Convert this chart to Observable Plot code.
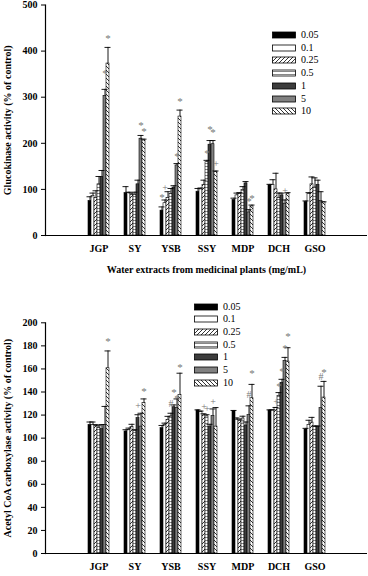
<!DOCTYPE html>
<html><head><meta charset="utf-8">
<script src="https://cdn.jsdelivr.net/npm/d3@7"></script>
<script src="https://cdn.jsdelivr.net/npm/@observablehq/plot@0.6"></script>
<style>
body{margin:0;background:#fff;}
#wrap{position:relative;width:368px;height:576px;overflow:hidden;background:#fff;font-family:"Liberation Serif","Times New Roman",serif;}
#wrap svg.plotsvg{display:block;}
.lg{position:absolute;font-size:10px;font-family:"Liberation Serif","Times New Roman",serif;color:#000;}
.lg .row{position:absolute;white-space:nowrap;height:12px;}
.lg .row svg{position:absolute;left:0;}
.lg .row span{position:absolute;line-height:12px;}
</style></head><body>
<svg width="0" height="0" style="position:absolute">
<defs>
<pattern id="p025" patternUnits="userSpaceOnUse" width="4" height="4">
<rect width="4" height="4" fill="#fff"/>
<path d="M-1,1 L1,-1 M0,4 L4,0 M3,5 L5,3" stroke="#000" stroke-width="0.8"/>
</pattern>
<pattern id="p05" patternUnits="userSpaceOnUse" width="4" height="3">
<rect width="4" height="3" fill="#fff"/>
<path d="M0,1.5 L4,1.5" stroke="#555" stroke-width="0.7"/>
</pattern>
<pattern id="p10" patternUnits="userSpaceOnUse" width="4" height="4">
<rect width="4" height="4" fill="#fff"/>
<path d="M-1,3 L1,5 M0,0 L4,4 M3,-1 L5,1" stroke="#000" stroke-width="0.8"/>
</pattern>
</defs></svg>
<div id="wrap"></div>
<script>
// ---- data ----
const groups = ["JGP","SY","YSB","SSY","MDP","DCH","GSO"];
const concentrations = ["0.05","0.1","0.25","0.5","1","5","10"];
const concFills = ["#000","#fff","url(#p025)","url(#p05)","#3c3c3c","#808080","url(#p10)"];

// Glucokinase activity (% of control): rows = groups, cols = concentrations
const gkMean = [
 [75,86,81,111,127,303,373],
 [92,92,88,88,111,210,206],
 [54,70,81,90,104,152,258],
 [95,100,110,159,197,198,138],
 [77,87,90,99,113,50,63],
 [109,110,100,81,87,69,90],
 [73,90,111,104,110,75,72]];
const gkSD = [
 [9,6,16,17,14,14,35],
 [14,2,4,6,9,7,3],
 [8,7,14,12,4,4,14],
 [7,3,10,4,9,8,2],
 [4,5,3,7,4,6,3],
 [2,11,35,11,5,8,3],
 [2,3,16,21,10,20,1]];
const gkMarks = [
 ["JGP","5","*",355],["JGP","10","*",432],["SY","5","*",243],["SY","10","*",230],
 ["YSB","0.05","*",86],["YSB","0.1","+",103],["YSB","5","*",176],["YSB","10","*",294],
 ["SSY","0.5","*",183],["SSY","1","*",234],["SSY","5","*",227],["SSY","10","+",155],
 ["MDP","5","*",79],["MDP","10","*",84],["DCH","5","+",98]];
const gkTicks = [0,100,200,300,400,500];

// Acetyl CoA carboxylase activity (% of control)
const accMean = [
 [111.5,111.5,110.7,108.7,107.8,111.5,160.6],
 [105.8,107.2,109.5,106.3,117.3,110,130.3],
 [108.7,111.5,115.9,118.8,126.8,126,137.5],
 [124,122.5,119.6,118.8,110,119.3,110],
 [123.5,116,115,117,111,120,134.6],
 [124,124,126,136.7,148,167,166.4],
 [107.5,111.5,113.5,110,110,126,135.2]];
const accSD = [
 [2.5,2.5,1,2,4,16,15],
 [1.5,1.5,2.5,1,3,11.6,3.7],
 [2.3,1.5,3,2.8,2,8,18.8],
 [0.5,1,1.5,1.5,2,6,16.5],
 [0.5,1.5,1.5,2,3,8,12],
 [0.5,0.5,0.6,2.8,3,3,12],
 [1,4,4.5,0.5,0.5,19,14]];
const accMarks = [
 ["JGP","10","*",185.7],["SY","1","+",128.3],["SY","10","*",142.4],
 ["YSB","0.5","#",129.4],["YSB","1","*",141.3],["YSB","5","*",135.8],["YSB","10","*",162.9],
 ["SSY","0.25","+",127.4],["SSY","0.5","+",125.4],["SSY","5","+",131.7],
 ["MDP","5","#",137.5],["MDP","10","*",157.7],
 ["DCH","0.25","+",131.7],["DCH","0.5","*",146.2],["DCH","1","*",159.2],["DCH","5","*",179.4],["DCH","10","*",189.5],
 ["GSO","5","#",153.4],["GSO","10","*",158.6]];
const accTicks = [0,20,40,60,80,100,120,140,160,180,200];

// ---- build ----
const xDomain = [];
groups.forEach((g,gi)=>{
  if (gi>0) for (let s=0;s<5;s++) xDomain.push("gap"+gi+"_"+s);
  concentrations.forEach(c=>xDomain.push(g+"|"+c));
});

function chart(o){
  const rows=[];
  groups.forEach((g,gi)=>concentrations.forEach((c,ci)=>rows.push({
    key:g+"|"+c, conc:c, mean:o.mean[gi][ci], top:o.mean[gi][ci]+o.sd[gi][ci]})));
  const mk = o.marks.map(([g,c,s,y])=>({key:g+"|"+c, s, y}));
  const svg = Plot.plot({
    width:368, height:o.height, marginTop:o.marginTop, marginBottom:o.marginBottom,
    marginLeft:45, marginRight:1,
    style:{fontFamily:"'Liberation Serif','Times New Roman',serif", fontSize:"10px", fontWeight:"bold", color:"#000", background:"transparent", overflow:"hidden"},
    x:{type:"band", domain:xDomain, paddingInner:0.1, paddingOuter:8.85, align:0.5},
    y:{domain:[0,o.yMax]},
    color:{type:"ordinal", domain:concentrations, range:concFills},
    marks:[
      Plot.barY(rows,{x:"key", y:"mean", fill:"conc", stroke:"#000", strokeWidth:0.6}),
      Plot.ruleX(rows,{x:"key", y1:"mean", y2:"top", stroke:"#000", strokeWidth:0.9}),
      Plot.tickY(rows,{x:"key", y:"top", stroke:"#000", strokeWidth:0.9, insetLeft:-1.5, insetRight:-1.5}),
      Plot.text(mk.filter(d=>d.s==="*"),{x:"key", y:"y", text:"s", fill:"#777", fontWeight:"normal", fontSize:11, dy:2}),
      Plot.text(mk.filter(d=>d.s!=="*"),{x:"key", y:"y", text:"s", fill:"#777", fontWeight:"normal", fontSize:10}),
      Plot.ruleY([0],{stroke:"#000", strokeWidth:1.2}),
      Plot.frame({anchor:"left", stroke:"#000", strokeWidth:1.2}),
      Plot.axisY({ticks:o.ticks, tickSize:4, tickPadding:4, label:o.yLabel, labelAnchor:"center", labelOffset:42, labelArrow:"none"}),
      Plot.axisX({ticks:groups.map(g=>g+"|0.5"), tickSize:0, tickPadding:9, tickFormat:k=>k.split("|")[0], label:o.xLabel, labelAnchor:"center", labelOffset:37, labelArrow:"none"})
    ]
  });
  svg.classList.add("plotsvg");
  return svg;
}

function legend(left, top){
  const d = document.createElement("div");
  d.className="lg"; d.style.left=left+"px"; d.style.top=top+"px";
  concentrations.forEach((c,i)=>{
    const r=document.createElement("div"); r.className="row";
    r.style.top=(i*12.7)+"px";
    r.innerHTML=`<svg width="24" height="12"><rect x="0.5" y="3" width="23" height="6" fill="${concFills[i]}" stroke="#000" stroke-width="0.8"/></svg><span style="left:29px">${c}</span>`;
    d.appendChild(r);
  });
  return d;
}

const wrap=document.getElementById("wrap");
wrap.appendChild(chart({mean:gkMean, sd:gkSD, marks:gkMarks, yMax:500, ticks:gkTicks, height:290, marginTop:4.5, marginBottom:55,
  yLabel:"Glucokinase activity (% of control)", xLabel:"Water extracts from medicinal plants (mg/mL)"}));
wrap.appendChild(chart({mean:accMean, sd:accSD, marks:accMarks, yMax:200, ticks:accTicks, height:286, marginTop:32.3, marginBottom:23,
  yLabel:"Acetyl CoA carboxylase activity (% of control)", xLabel:null}));
wrap.appendChild(legend(272, 29));
wrap.appendChild(legend(194, 300.7));
</script>
</body></html>
